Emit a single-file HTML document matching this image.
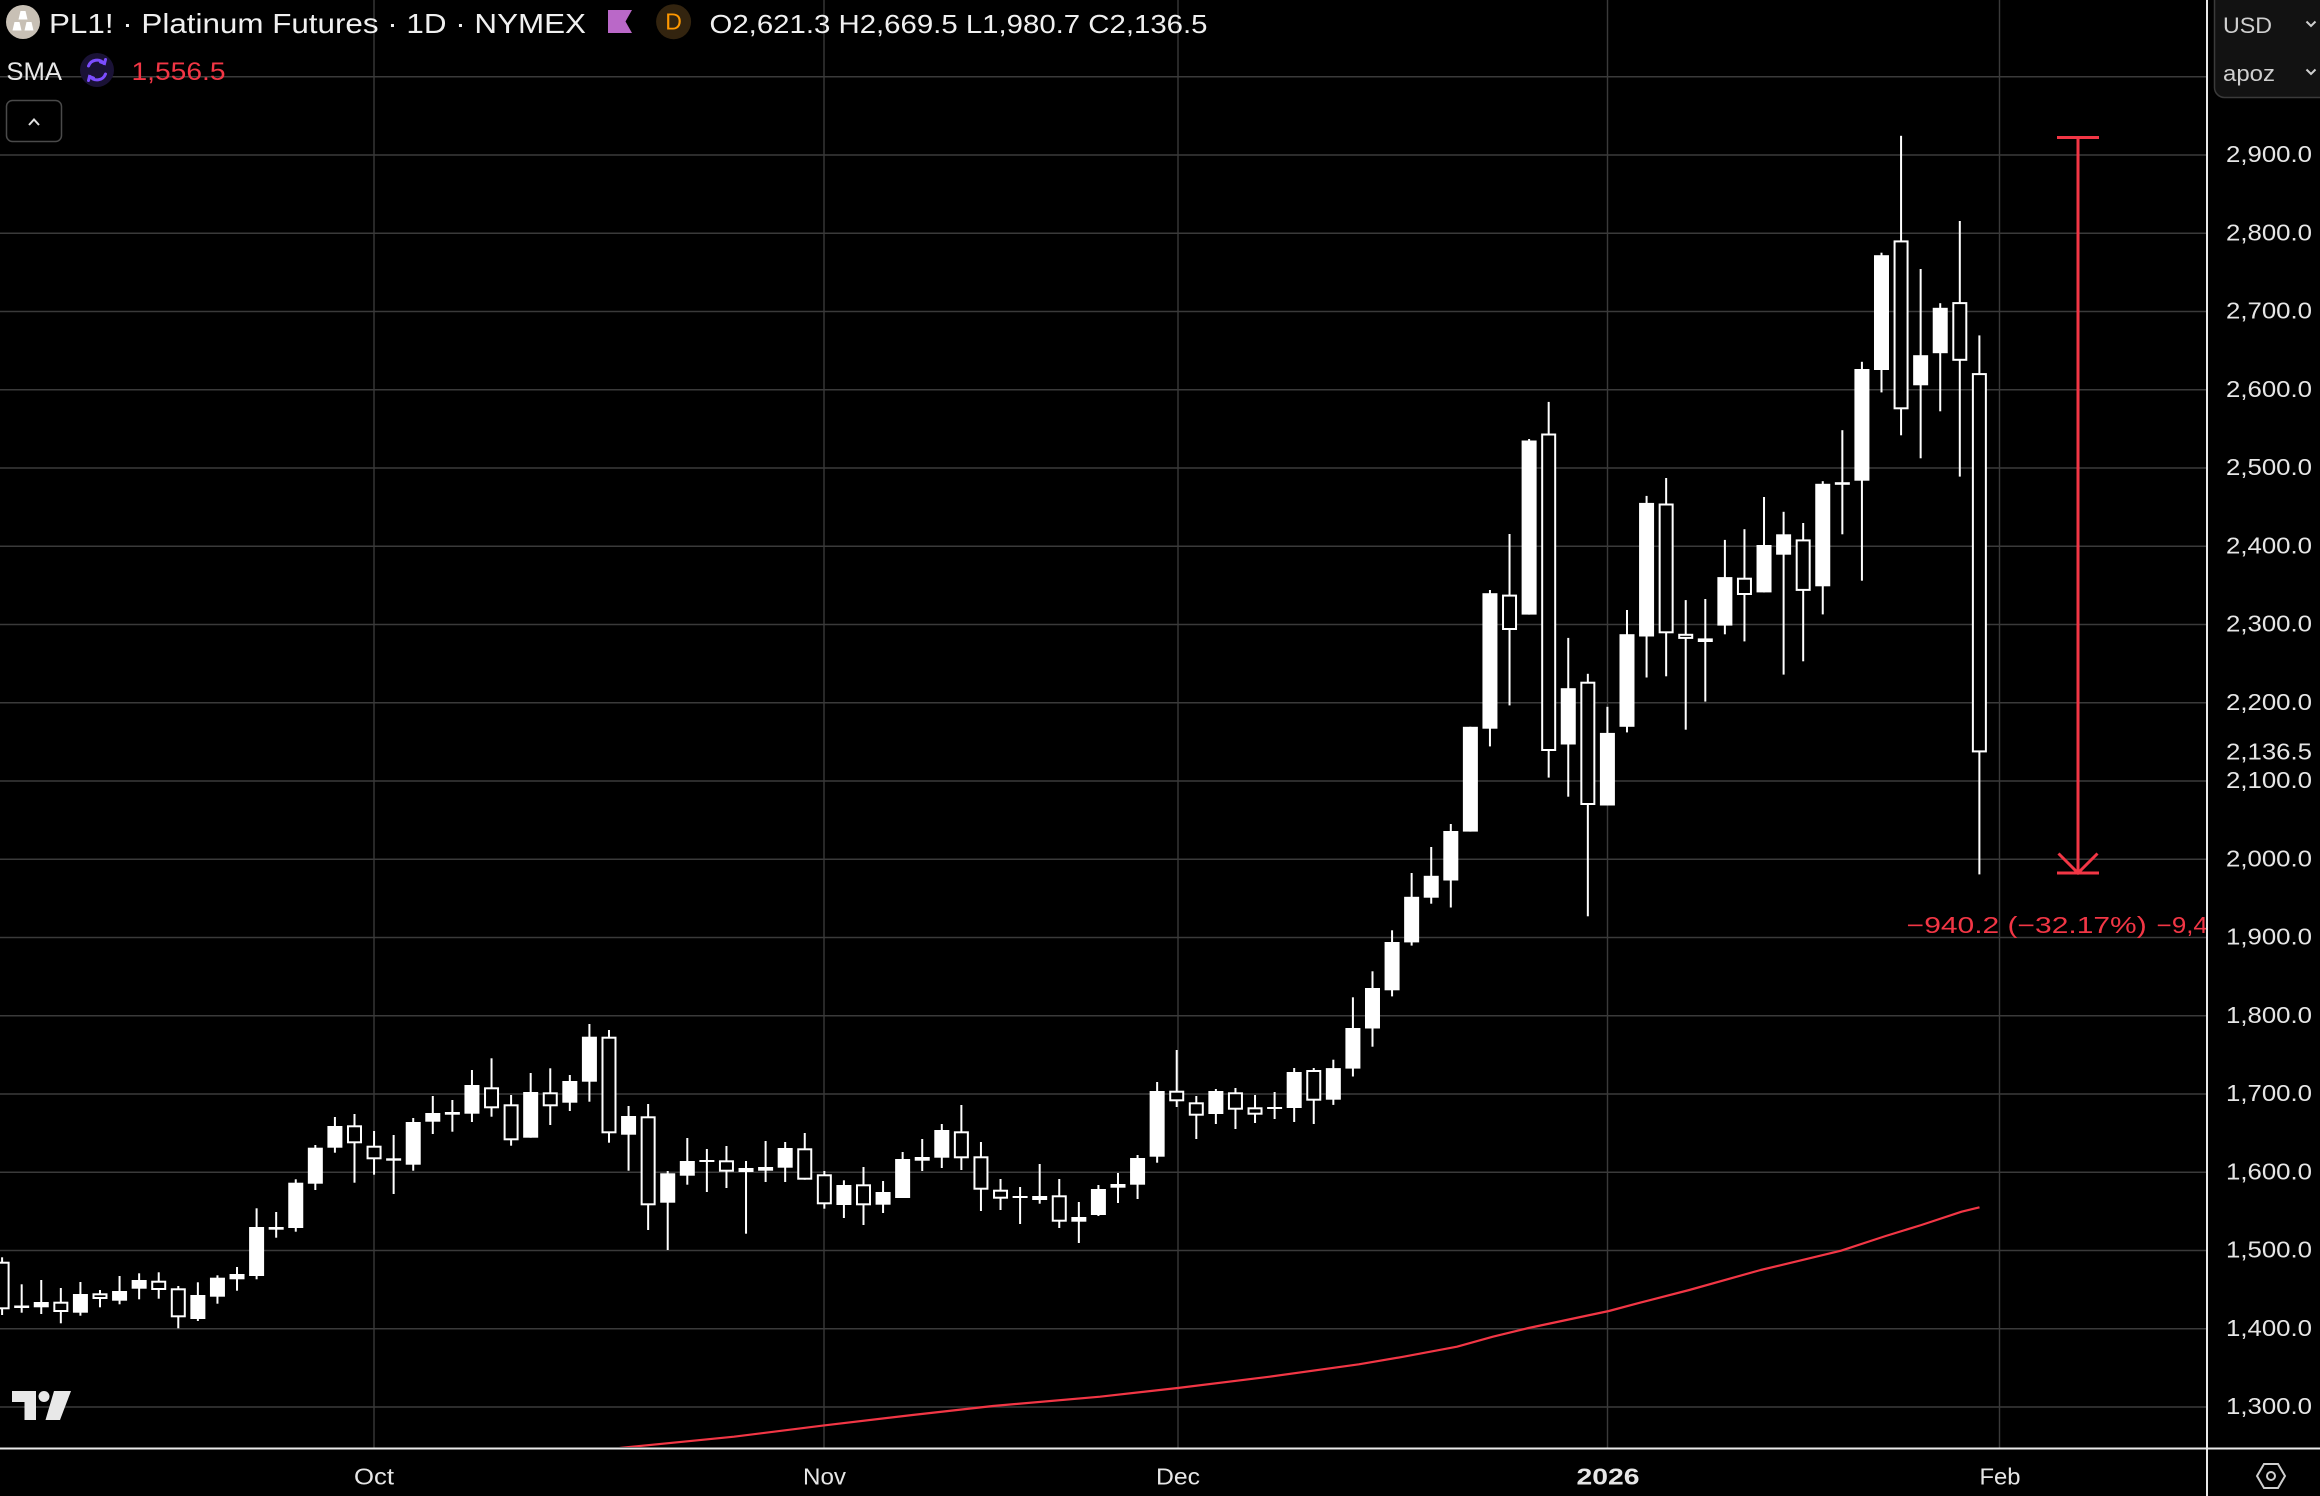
<!DOCTYPE html>
<html><head><meta charset="utf-8"><style>
html,body{margin:0;padding:0;background:#000;}
svg{display:block;}
.c rect{fill:#fff;}
.c rect.h{fill:#000;stroke:#fff;stroke-width:2;}
text{font-family:"Liberation Sans",Arial,sans-serif;}
</style></head><body>
<svg width="2320" height="1496" viewBox="0 0 2320 1496" xmlns="http://www.w3.org/2000/svg">
<defs>
<clipPath id="pane"><rect x="0" y="0" width="2206" height="1447"/></clipPath>
</defs>
<rect width="2320" height="1496" fill="#000"/>
<!-- grid -->
<g stroke="#3a3a3a" stroke-width="1.4">
<line x1="0" x2="2206" y1="76.75" y2="76.75"/>
<line x1="0" x2="2206" y1="155" y2="155"/>
<line x1="0" x2="2206" y1="233.25" y2="233.25"/>
<line x1="0" x2="2206" y1="311.5" y2="311.5"/>
<line x1="0" x2="2206" y1="389.75" y2="389.75"/>
<line x1="0" x2="2206" y1="468" y2="468"/>
<line x1="0" x2="2206" y1="546.25" y2="546.25"/>
<line x1="0" x2="2206" y1="624.5" y2="624.5"/>
<line x1="0" x2="2206" y1="702.75" y2="702.75"/>
<line x1="0" x2="2206" y1="781" y2="781"/>
<line x1="0" x2="2206" y1="859.25" y2="859.25"/>
<line x1="0" x2="2206" y1="937.5" y2="937.5"/>
<line x1="0" x2="2206" y1="1015.75" y2="1015.75"/>
<line x1="0" x2="2206" y1="1094" y2="1094"/>
<line x1="0" x2="2206" y1="1172.25" y2="1172.25"/>
<line x1="0" x2="2206" y1="1250.5" y2="1250.5"/>
<line x1="0" x2="2206" y1="1328.75" y2="1328.75"/>
<line x1="0" x2="2206" y1="1407" y2="1407"/>
<line x1="374" x2="374" y1="0" y2="1448"/>
<line x1="824" x2="824" y1="0" y2="1448"/>
<line x1="1178" x2="1178" y1="0" y2="1448"/>
<line x1="1607.5" x2="1607.5" y1="0" y2="1448"/>
<line x1="1999.5" x2="1999.5" y1="0" y2="1448"/>
</g>
<!-- SMA -->
<g clip-path="url(#pane)">
<polyline fill="none" stroke="#f23645" stroke-width="2.2" stroke-linejoin="round" points="600,1450.5 622.3,1447.7 734,1436.7 825,1425.3 912.5,1415 992.9,1406 1100,1396.7 1177.7,1388 1269.6,1376.7 1358.9,1364.3 1403.6,1356.7 1457,1346.7 1492.9,1336.7 1528.6,1328 1608.9,1311 1640,1302.7 1689.3,1290 1760.7,1270 1841,1250.7 1885.7,1236 1921.4,1225 1961.6,1211.7 1979.5,1207.3"/>
</g>
<!-- candles -->
<g class="c" clip-path="url(#pane)">
<g transform="translate(2.1)"><rect x="-1" y="1257.3" width="2" height="57.7"/><rect class="h" x="-6.5" y="1262.7" width="13" height="45.6"/></g>
<g transform="translate(21.68)"><rect x="-1" y="1284.3" width="2" height="28.4"/><rect x="-7.5" y="1305.5" width="15" height="2.5"/></g>
<g transform="translate(41.25)"><rect x="-1" y="1280" width="2" height="34"/><rect x="-7.5" y="1302" width="15" height="5.3"/></g>
<g transform="translate(60.83)"><rect x="-1" y="1288" width="2" height="35.3"/><rect class="h" x="-6.5" y="1302.7" width="13" height="8.3"/></g>
<g transform="translate(80.41)"><rect x="-1" y="1282" width="2" height="33.7"/><rect x="-7.5" y="1294" width="15" height="18.7"/></g>
<g transform="translate(99.99)"><rect x="-1" y="1290" width="2" height="17.3"/><rect class="h" x="-6.5" y="1294.3" width="13" height="3.7"/></g>
<g transform="translate(119.56)"><rect x="-1" y="1276" width="2" height="28.3"/><rect x="-7.5" y="1291" width="15" height="9.7"/></g>
<g transform="translate(139.14)"><rect x="-1" y="1273.3" width="2" height="26"/><rect x="-7.5" y="1280" width="15" height="8.7"/></g>
<g transform="translate(158.72)"><rect x="-1" y="1272.3" width="2" height="26.4"/><rect class="h" x="-6.5" y="1281.7" width="13" height="7.3"/></g>
<g transform="translate(178.29)"><rect x="-1" y="1286" width="2" height="42.3"/><rect class="h" x="-6.5" y="1289.3" width="13" height="27"/></g>
<g transform="translate(197.87)"><rect x="-1" y="1282.3" width="2" height="38.7"/><rect x="-7.5" y="1295" width="15" height="24"/></g>
<g transform="translate(217.45)"><rect x="-1" y="1275.3" width="2" height="28.4"/><rect x="-7.5" y="1277.7" width="15" height="19"/></g>
<g transform="translate(237.02)"><rect x="-1" y="1267" width="2" height="23.7"/><rect x="-7.5" y="1274" width="15" height="5.3"/></g>
<g transform="translate(256.6)"><rect x="-1" y="1208.3" width="2" height="71"/><rect x="-7.5" y="1227" width="15" height="49"/></g>
<g transform="translate(276.18)"><rect x="-1" y="1212" width="2" height="25.7"/><rect x="-7.5" y="1227" width="15" height="2.7"/></g>
<g transform="translate(295.76)"><rect x="-1" y="1179.3" width="2" height="52.4"/><rect x="-7.5" y="1182.7" width="15" height="45.3"/></g>
<g transform="translate(315.33)"><rect x="-1" y="1145" width="2" height="45"/><rect x="-7.5" y="1147.7" width="15" height="36"/></g>
<g transform="translate(334.91)"><rect x="-1" y="1117" width="2" height="35.7"/><rect x="-7.5" y="1126" width="15" height="21.7"/></g>
<g transform="translate(354.49)"><rect x="-1" y="1114" width="2" height="68.7"/><rect class="h" x="-6.5" y="1126.3" width="13" height="16"/></g>
<g transform="translate(374.06)"><rect x="-1" y="1131" width="2" height="43.7"/><rect class="h" x="-6.5" y="1146.7" width="13" height="11.6"/></g>
<g transform="translate(393.64)"><rect x="-1" y="1135" width="2" height="59"/><rect x="-7.5" y="1158.3" width="15" height="2.4"/></g>
<g transform="translate(413.22)"><rect x="-1" y="1118" width="2" height="52.7"/><rect x="-7.5" y="1122" width="15" height="42.7"/></g>
<g transform="translate(432.79)"><rect x="-1" y="1096" width="2" height="38"/><rect x="-7.5" y="1113" width="15" height="8.7"/></g>
<g transform="translate(452.37)"><rect x="-1" y="1100" width="2" height="31.7"/><rect x="-7.5" y="1112" width="15" height="2.7"/></g>
<g transform="translate(471.95)"><rect x="-1" y="1070" width="2" height="52"/><rect x="-7.5" y="1085" width="15" height="28.7"/></g>
<g transform="translate(491.53)"><rect x="-1" y="1058.3" width="2" height="58.4"/><rect class="h" x="-6.5" y="1088.3" width="13" height="19"/></g>
<g transform="translate(511.1)"><rect x="-1" y="1095" width="2" height="50.7"/><rect class="h" x="-6.5" y="1105.3" width="13" height="34"/></g>
<g transform="translate(530.68)"><rect x="-1" y="1073" width="2" height="64.7"/><rect x="-7.5" y="1092" width="15" height="45.7"/></g>
<g transform="translate(550.26)"><rect x="-1" y="1068.3" width="2" height="56.7"/><rect class="h" x="-6.5" y="1093.3" width="13" height="12"/></g>
<g transform="translate(569.83)"><rect x="-1" y="1075" width="2" height="36"/><rect x="-7.5" y="1081" width="15" height="21.7"/></g>
<g transform="translate(589.41)"><rect x="-1" y="1024" width="2" height="77.7"/><rect x="-7.5" y="1036.7" width="15" height="45"/></g>
<g transform="translate(608.99)"><rect x="-1" y="1030" width="2" height="112.7"/><rect class="h" x="-6.5" y="1037.7" width="13" height="94.6"/></g>
<g transform="translate(628.56)"><rect x="-1" y="1106" width="2" height="64.7"/><rect x="-7.5" y="1116" width="15" height="18.7"/></g>
<g transform="translate(648.14)"><rect x="-1" y="1104" width="2" height="126"/><rect class="h" x="-6.5" y="1117.3" width="13" height="87"/></g>
<g transform="translate(667.72)"><rect x="-1" y="1171" width="2" height="79"/><rect x="-7.5" y="1173.3" width="15" height="29.4"/></g>
<g transform="translate(687.3)"><rect x="-1" y="1138" width="2" height="46.7"/><rect x="-7.5" y="1161" width="15" height="14.7"/></g>
<g transform="translate(706.87)"><rect x="-1" y="1149" width="2" height="43"/><rect x="-7.5" y="1160" width="15" height="2"/></g>
<g transform="translate(726.45)"><rect x="-1" y="1146" width="2" height="42"/><rect class="h" x="-6.5" y="1161.3" width="13" height="9.4"/></g>
<g transform="translate(746.03)"><rect x="-1" y="1161" width="2" height="72.7"/><rect x="-7.5" y="1168" width="15" height="4"/></g>
<g transform="translate(765.6)"><rect x="-1" y="1141" width="2" height="41"/><rect x="-7.5" y="1167" width="15" height="3.7"/></g>
<g transform="translate(785.18)"><rect x="-1" y="1142" width="2" height="40"/><rect x="-7.5" y="1148" width="15" height="19.7"/></g>
<g transform="translate(804.76)"><rect x="-1" y="1133" width="2" height="46.7"/><rect class="h" x="-6.5" y="1149.3" width="13" height="29.4"/></g>
<g transform="translate(824.33)"><rect x="-1" y="1171" width="2" height="37.7"/><rect class="h" x="-6.5" y="1175.3" width="13" height="28"/></g>
<g transform="translate(843.91)"><rect x="-1" y="1180.3" width="2" height="37.7"/><rect x="-7.5" y="1185" width="15" height="20"/></g>
<g transform="translate(863.49)"><rect x="-1" y="1167" width="2" height="58"/><rect class="h" x="-6.5" y="1185.3" width="13" height="19"/></g>
<g transform="translate(883.07)"><rect x="-1" y="1181" width="2" height="32"/><rect x="-7.5" y="1192" width="15" height="12.7"/></g>
<g transform="translate(902.64)"><rect x="-1" y="1152" width="2" height="46"/><rect x="-7.5" y="1159" width="15" height="39"/></g>
<g transform="translate(922.22)"><rect x="-1" y="1139" width="2" height="32"/><rect x="-7.5" y="1157" width="15" height="3.7"/></g>
<g transform="translate(941.8)"><rect x="-1" y="1124" width="2" height="44"/><rect x="-7.5" y="1130" width="15" height="27.7"/></g>
<g transform="translate(961.37)"><rect x="-1" y="1105" width="2" height="65"/><rect class="h" x="-6.5" y="1132.3" width="13" height="25"/></g>
<g transform="translate(980.95)"><rect x="-1" y="1142" width="2" height="69"/><rect class="h" x="-6.5" y="1157.3" width="13" height="31.4"/></g>
<g transform="translate(1000.53)"><rect x="-1" y="1179" width="2" height="31"/><rect class="h" x="-6.5" y="1190.7" width="13" height="7"/></g>
<g transform="translate(1020.1)"><rect x="-1" y="1187" width="2" height="37"/><rect x="-7.5" y="1196" width="15" height="2"/></g>
<g transform="translate(1039.68)"><rect x="-1" y="1164" width="2" height="39.7"/><rect x="-7.5" y="1196" width="15" height="4"/></g>
<g transform="translate(1059.26)"><rect x="-1" y="1179" width="2" height="49"/><rect class="h" x="-6.5" y="1196.3" width="13" height="24.4"/></g>
<g transform="translate(1078.84)"><rect x="-1" y="1202" width="2" height="41"/><rect x="-7.5" y="1217" width="15" height="4.7"/></g>
<g transform="translate(1098.41)"><rect x="-1" y="1185" width="2" height="31"/><rect x="-7.5" y="1189" width="15" height="26"/></g>
<g transform="translate(1117.99)"><rect x="-1" y="1173" width="2" height="30"/><rect x="-7.5" y="1184" width="15" height="3.7"/></g>
<g transform="translate(1137.57)"><rect x="-1" y="1155" width="2" height="44"/><rect x="-7.5" y="1158" width="15" height="26.7"/></g>
<g transform="translate(1157.14)"><rect x="-1" y="1082" width="2" height="80.7"/><rect x="-7.5" y="1091" width="15" height="65.7"/></g>
<g transform="translate(1176.72)"><rect x="-1" y="1050" width="2" height="57"/><rect class="h" x="-6.5" y="1091.7" width="13" height="8.6"/></g>
<g transform="translate(1196.3)"><rect x="-1" y="1096" width="2" height="43"/><rect class="h" x="-6.5" y="1103.3" width="13" height="11.4"/></g>
<g transform="translate(1215.87)"><rect x="-1" y="1089" width="2" height="35"/><rect x="-7.5" y="1091" width="15" height="23"/></g>
<g transform="translate(1235.45)"><rect x="-1" y="1088" width="2" height="41"/><rect class="h" x="-6.5" y="1093.3" width="13" height="15.4"/></g>
<g transform="translate(1255.03)"><rect x="-1" y="1095" width="2" height="28"/><rect class="h" x="-6.5" y="1108.3" width="13" height="5.4"/></g>
<g transform="translate(1274.61)"><rect x="-1" y="1092" width="2" height="27"/><rect x="-7.5" y="1107" width="15" height="2"/></g>
<g transform="translate(1294.18)"><rect x="-1" y="1068" width="2" height="54"/><rect x="-7.5" y="1072" width="15" height="36"/></g>
<g transform="translate(1313.76)"><rect x="-1" y="1068" width="2" height="56"/><rect class="h" x="-6.5" y="1071" width="13" height="28.7"/></g>
<g transform="translate(1333.34)"><rect x="-1" y="1059.7" width="2" height="45.2"/><rect x="-7.5" y="1068.1" width="15" height="31.6"/></g>
<g transform="translate(1352.91)"><rect x="-1" y="997.3" width="2" height="79.2"/><rect x="-7.5" y="1028" width="15" height="40.6"/></g>
<g transform="translate(1372.49)"><rect x="-1" y="971.3" width="2" height="75.4"/><rect x="-7.5" y="988" width="15" height="40.5"/></g>
<g transform="translate(1392.07)"><rect x="-1" y="930.3" width="2" height="66.1"/><rect x="-7.5" y="942" width="15" height="48.3"/></g>
<g transform="translate(1411.64)"><rect x="-1" y="873" width="2" height="72.6"/><rect x="-7.5" y="896.8" width="15" height="45.6"/></g>
<g transform="translate(1431.22)"><rect x="-1" y="847" width="2" height="56.7"/><rect x="-7.5" y="875.8" width="15" height="21.9"/></g>
<g transform="translate(1450.8)"><rect x="-1" y="824" width="2" height="83.5"/><rect x="-7.5" y="831" width="15" height="49.5"/></g>
<g transform="translate(1470.38)"><rect x="-1" y="726.8" width="2" height="104.8"/><rect x="-7.5" y="726.8" width="15" height="104.8"/></g>
<g transform="translate(1489.95)"><rect x="-1" y="590" width="2" height="156.4"/><rect x="-7.5" y="593.2" width="15" height="135.5"/></g>
<g transform="translate(1509.53)"><rect x="-1" y="534" width="2" height="171.4"/><rect class="h" x="-6.5" y="595.6" width="13" height="33.4"/></g>
<g transform="translate(1529.11)"><rect x="-1" y="439" width="2" height="175.6"/><rect x="-7.5" y="440.5" width="15" height="174.1"/></g>
<g transform="translate(1548.68)"><rect x="-1" y="401.9" width="2" height="375.7"/><rect class="h" x="-6.5" y="434.5" width="13" height="315.5"/></g>
<g transform="translate(1568.26)"><rect x="-1" y="637.9" width="2" height="158.8"/><rect x="-7.5" y="688.2" width="15" height="56.3"/></g>
<g transform="translate(1587.84)"><rect x="-1" y="673.8" width="2" height="242.5"/><rect class="h" x="-6.5" y="682.7" width="13" height="121.3"/></g>
<g transform="translate(1607.41)"><rect x="-1" y="706.8" width="2" height="98.7"/><rect x="-7.5" y="732.9" width="15" height="72.6"/></g>
<g transform="translate(1626.99)"><rect x="-1" y="610" width="2" height="122.4"/><rect x="-7.5" y="634.2" width="15" height="92.6"/></g>
<g transform="translate(1646.57)"><rect x="-1" y="495.9" width="2" height="181.6"/><rect x="-7.5" y="502.9" width="15" height="133.6"/></g>
<g transform="translate(1666.15)"><rect x="-1" y="478" width="2" height="198.3"/><rect class="h" x="-6.5" y="504.5" width="13" height="127.8"/></g>
<g transform="translate(1685.72)"><rect x="-1" y="600.1" width="2" height="129.6"/><rect class="h" x="-6.5" y="634.8" width="13" height="3.1"/></g>
<g transform="translate(1705.3)"><rect x="-1" y="599" width="2" height="102.6"/><rect class="h" x="-6.5" y="639.4" width="13" height="1.6"/></g>
<g transform="translate(1724.88)"><rect x="-1" y="539.9" width="2" height="94.4"/><rect x="-7.5" y="577.1" width="15" height="48.5"/></g>
<g transform="translate(1744.45)"><rect x="-1" y="529.2" width="2" height="112.2"/><rect class="h" x="-6.5" y="578.7" width="13" height="15.3"/></g>
<g transform="translate(1764.03)"><rect x="-1" y="497" width="2" height="95.4"/><rect x="-7.5" y="545" width="15" height="47.4"/></g>
<g transform="translate(1783.61)"><rect x="-1" y="511.8" width="2" height="162.8"/><rect x="-7.5" y="534.3" width="15" height="20.4"/></g>
<g transform="translate(1803.18)"><rect x="-1" y="523" width="2" height="138.3"/><rect class="h" x="-6.5" y="540.4" width="13" height="49.5"/></g>
<g transform="translate(1822.76)"><rect x="-1" y="481.2" width="2" height="133.2"/><rect x="-7.5" y="483.8" width="15" height="102.5"/></g>
<g transform="translate(1842.34)"><rect x="-1" y="430.2" width="2" height="104.1"/><rect x="-7.5" y="482.2" width="15" height="2.6"/></g>
<g transform="translate(1861.92)"><rect x="-1" y="361.8" width="2" height="218.9"/><rect x="-7.5" y="369" width="15" height="111.7"/></g>
<g transform="translate(1881.49)"><rect x="-1" y="252.7" width="2" height="139.7"/><rect x="-7.5" y="255.2" width="15" height="114.8"/></g>
<g transform="translate(1901.07)"><rect x="-1" y="135.8" width="2" height="299.5"/><rect class="h" x="-6.5" y="241.4" width="13" height="166.9"/></g>
<g transform="translate(1920.65)"><rect x="-1" y="269" width="2" height="189.3"/><rect x="-7.5" y="355.2" width="15" height="30.1"/></g>
<g transform="translate(1940.22)"><rect x="-1" y="303.2" width="2" height="108.1"/><rect x="-7.5" y="307.8" width="15" height="45.4"/></g>
<g transform="translate(1959.8)"><rect x="-1" y="221" width="2" height="255.6"/><rect class="h" x="-6.5" y="303.1" width="13" height="56.7"/></g>
<g transform="translate(1979.38)"><rect x="-1" y="335.4" width="2" height="539"/><rect class="h" x="-6.5" y="374.1" width="13" height="377.3"/></g>
</g>
<!-- measurement tool -->
<g stroke="#f23645" stroke-width="3" fill="none">
<line x1="2057" x2="2099" y1="137.5" y2="137.5"/>
<line x1="2078" x2="2078" y1="137.5" y2="873"/>
<line x1="2057" x2="2099" y1="873" y2="873"/>
<polyline points="2058.5,853.5 2078,873 2097.5,853.5"/>
</g>
<g clip-path="url(#pane)">
<text x="1906.7" y="933" font-size="23" fill="#f23645" textLength="240" lengthAdjust="spacingAndGlyphs">−940.2 (−32.17%)</text>
<text x="2156.7" y="933" font-size="23" fill="#f23645" textLength="80" lengthAdjust="spacingAndGlyphs">−9,402</text>
</g>
<!-- separators -->
<rect x="2206" y="0" width="2" height="1496" fill="#e8e8e8"/>
<rect x="0" y="1447.5" width="2320" height="2" fill="#e8e8e8"/>
<!-- header -->
<circle cx="23" cy="22" r="17" fill="#c8c0b5"/>
<g fill="#fff">
<polygon points="20.5,11 25.5,11 27.5,19.5 18.5,19.5"/>
<polygon points="14.5,22 19.5,22 21.5,30.5 12.5,30.5"/>
<polygon points="26.5,22 31.5,22 33.5,30.5 24.5,30.5"/>
</g>
<text x="49" y="33" font-size="28" fill="#f0f0f0" textLength="537" lengthAdjust="spacingAndGlyphs">PL1! · Platinum Futures · 1D · NYMEX</text>
<polygon points="608,10 632,10 625.5,21.5 632,33 608,33" fill="#ba68c8"/>
<circle cx="673.6" cy="21.7" r="17.5" fill="#33240f"/>
<text x="673.6" y="29.5" font-size="23" fill="#ff9800" text-anchor="middle">D</text>
<text x="709.5" y="33" font-size="26" fill="#f0f0f0" textLength="498" lengthAdjust="spacingAndGlyphs">O2,621.3 H2,669.5 L1,980.7 C2,136.5</text>
<text x="6.4" y="80" font-size="25" fill="#e8e8e8" textLength="55.6" lengthAdjust="spacingAndGlyphs">SMA</text>
<circle cx="97" cy="70" r="17" fill="#1a1236"/>
<g stroke="#7c4dff" stroke-width="3" fill="none" stroke-linecap="round">
<path d="M88.5 66 A9 9 0 0 1 104 63.5"/>
<path d="M105.5 74 A9 9 0 0 1 90 76.5"/>
<polyline points="100.5,62 104.5,63.5 105.5,59.5"/>
<polyline points="93.5,78 89.5,76.5 88.5,80.5"/>
</g>
<text x="131.5" y="80" font-size="25" fill="#f23645" textLength="94" lengthAdjust="spacingAndGlyphs">1,556.5</text>
<rect x="6.5" y="100.5" width="55" height="41" rx="6" fill="#000" stroke="#4a4a4a" stroke-width="1.5"/>
<polyline points="29,125 34,119.5 39,125" fill="none" stroke="#e0e0e0" stroke-width="2"/>
<!-- currency box -->
<rect x="2214.5" y="-10" width="120" height="107.5" rx="10" fill="#121212" stroke="#3a3a3a" stroke-width="1.5"/>
<text x="2223" y="33" font-size="22" fill="#cfcfcf" textLength="49" lengthAdjust="spacingAndGlyphs">USD</text>
<text x="2223" y="81" font-size="22" fill="#cfcfcf" textLength="52" lengthAdjust="spacingAndGlyphs">apoz</text>
<g stroke="#cfcfcf" stroke-width="2" fill="none">
<polyline points="2306.5,21.5 2311,26 2315.5,21.5"/>
<polyline points="2306.5,69.5 2311,74 2315.5,69.5"/>
</g>
<!-- price axis labels -->
<g font-size="23" fill="#e6e6e6">
<text x="2226" y="162" textLength="86" lengthAdjust="spacingAndGlyphs">2,900.0</text>
<text x="2226" y="240.3" textLength="86" lengthAdjust="spacingAndGlyphs">2,800.0</text>
<text x="2226" y="318.5" textLength="86" lengthAdjust="spacingAndGlyphs">2,700.0</text>
<text x="2226" y="396.8" textLength="86" lengthAdjust="spacingAndGlyphs">2,600.0</text>
<text x="2226" y="475" textLength="86" lengthAdjust="spacingAndGlyphs">2,500.0</text>
<text x="2226" y="553.3" textLength="86" lengthAdjust="spacingAndGlyphs">2,400.0</text>
<text x="2226" y="631.5" textLength="86" lengthAdjust="spacingAndGlyphs">2,300.0</text>
<text x="2226" y="709.8" textLength="86" lengthAdjust="spacingAndGlyphs">2,200.0</text>
<text x="2226" y="759.4" textLength="86" lengthAdjust="spacingAndGlyphs">2,136.5</text>
<text x="2226" y="788" textLength="86" lengthAdjust="spacingAndGlyphs">2,100.0</text>
<text x="2226" y="866.3" textLength="86" lengthAdjust="spacingAndGlyphs">2,000.0</text>
<text x="2226" y="944.5" textLength="86" lengthAdjust="spacingAndGlyphs">1,900.0</text>
<text x="2226" y="1022.8" textLength="86" lengthAdjust="spacingAndGlyphs">1,800.0</text>
<text x="2226" y="1101" textLength="86" lengthAdjust="spacingAndGlyphs">1,700.0</text>
<text x="2226" y="1179.3" textLength="86" lengthAdjust="spacingAndGlyphs">1,600.0</text>
<text x="2226" y="1257.5" textLength="86" lengthAdjust="spacingAndGlyphs">1,500.0</text>
<text x="2226" y="1335.8" textLength="86" lengthAdjust="spacingAndGlyphs">1,400.0</text>
<text x="2226" y="1414" textLength="86" lengthAdjust="spacingAndGlyphs">1,300.0</text>
</g>
<!-- time axis -->
<g font-size="23" fill="#e6e6e6" text-anchor="middle">
<text x="374" y="1484.5" textLength="40" lengthAdjust="spacingAndGlyphs">Oct</text>
<text x="824.5" y="1484.5" textLength="43" lengthAdjust="spacingAndGlyphs">Nov</text>
<text x="1178" y="1484.5" textLength="44" lengthAdjust="spacingAndGlyphs">Dec</text>
<text x="1608" y="1484.5" font-weight="bold" textLength="63" lengthAdjust="spacingAndGlyphs">2026</text>
<text x="2000" y="1484.5" textLength="41" lengthAdjust="spacingAndGlyphs">Feb</text>
</g>
<g stroke="#cfcfcf" stroke-width="2" fill="none">
<polygon points="2257,1476 2264,1464 2278,1464 2285,1476 2278,1488 2264,1488"/>
<circle cx="2271" cy="1476" r="4"/>
</g>
<!-- TV logo -->
<g fill="#e8e8e8">
<path d="M12 1391 H36 V1420 H24.5 V1402 H12 Z"/>
<circle cx="44" cy="1396.5" r="5.5"/>
<path d="M54 1391 H71 L60 1420 H45.5 Z"/>
</g>
</svg>
</body></html>
